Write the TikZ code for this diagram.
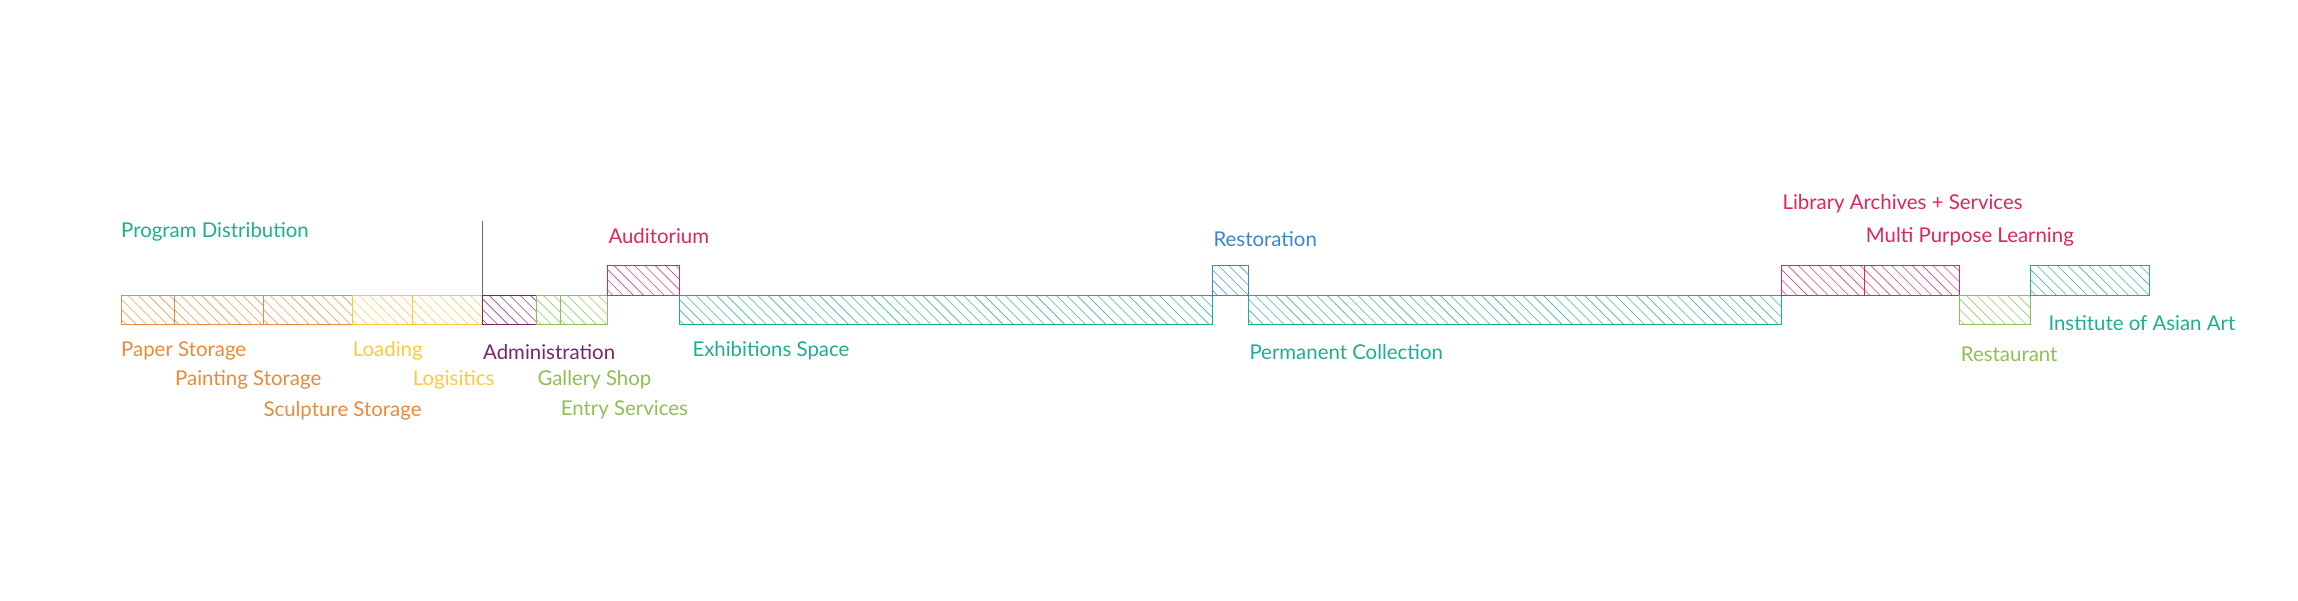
\documentclass[tikz,border=0pt]{standalone}
\usepackage{fontspec}
\setmainfont{Lato}
\definecolor{corange}{HTML}{E88A3C}
\definecolor{cyellow}{HTML}{FFC93C}
\definecolor{cpurple}{HTML}{7B2469}
\definecolor{cgreen}{HTML}{8CC152}
\definecolor{cteal}{HTML}{1BAF8E}
\definecolor{ccrimson}{HTML}{E0245E}
\definecolor{cblue}{HTML}{3A86C8}
\definecolor{cgray}{HTML}{666666}
\tikzset{
  room/.style={draw=#1, line width=0.9pt, inner sep=0pt, outer sep=0pt, anchor=north west,
    minimum height=29.5pt,
    path picture={\foreach \k in {0,...,60}
      \draw[#1!85, line width=0.6pt] ([xshift=\k*10.3pt-35pt]path picture bounding box.north west) -- ++(40pt,-40pt);}},
  lbl/.style={text=#1, anchor=base west, inner sep=0pt, font=\fontsize{20.4}{24}\selectfont}
}
\begin{document}
\begin{tikzpicture}[x=1pt,y=-1pt]
\useasboundingbox (0,0) rectangle (2298,600);
% boxes
\node[room=corange, minimum width=53pt] (paper) at (121.3,295) {};
\node[room=corange, minimum width=89pt] (painting) at (174.3,295) {};
\node[room=corange, minimum width=89pt] (sculpture) at (263.3,295) {};
\node[room=cyellow, minimum width=59.7pt] (loading) at (352.3,295) {};
\node[room=cyellow, minimum width=70.7pt] (logistics) at (412,295) {};
\node[room=cpurple, minimum width=54pt] (admin) at (482.7,295) {};
\node[room=cgreen, minimum width=24pt] (shop) at (536.7,295) {};
\node[room=cgreen, minimum width=47pt] (entry) at (560.7,295) {};
\node[room=ccrimson, minimum width=71.3pt] (audit) at (607.7,265.5) {};
\node[room=cteal, minimum width=533.3pt] (exhib) at (679,295) {};
\node[room=cblue, minimum width=36pt] (resto) at (1212.3,265.5) {};
\node[room=cteal, minimum width=533.4pt] (perm) at (1248.3,295) {};
\node[room=ccrimson, minimum width=83pt] (library) at (1781.7,265.5) {};
\node[room=ccrimson, minimum width=95pt] (multi) at (1864.7,265.5) {};
\node[room=cgreen, minimum width=71pt] (restaurant) at (1959.7,295) {};
\node[room=cteal, minimum width=118.6pt] (institute) at (2030.7,265.5) {};
% divider
\coordinate (vtop) at (482.7,221);
\draw[cgray, line width=1pt] (vtop) -- (admin.north west);
% labels
\node[lbl=cteal] (tprog) at (121,237) {Program Distribution};
\node[lbl=corange] (tpaper) at (121,356.7) {Paper Storage};
\node[lbl=corange] (tpaint) at (175,385.7) {Painting Storage};
\node[lbl=corange] (tsculp) at (263.3,416) {Sculpture Storage};
\node[lbl=cyellow] (tload) at (352.7,356) {Loading};
\node[lbl=cyellow] (tlog) at (412.7,385) {Logisitics};
\node[lbl=cpurple] (tadmin) at (483,359.3) {Administration};
\node[lbl=cgreen] (tshop) at (537.3,385.7) {Gallery Shop};
\node[lbl=cgreen] (tentry) at (560.7,415.7) {Entry Services};
\node[lbl=ccrimson] (taudit) at (608.3,243.3) {Auditorium};
\node[lbl=cteal] (texhib) at (692.3,356.7) {Exhibitions Space};
\node[lbl=cblue] (tresto) at (1213.3,246.7) {Restoration};
\node[lbl=cteal] (tperm) at (1249.3,359.3) {Permanent Collection};
\node[lbl=ccrimson] (tlib) at (1782.3,209.3) {Library Archives + Services};
\node[lbl=ccrimson] (tmulti) at (1865.7,242.7) {Multi Purpose Learning};
\node[lbl=cteal] (tinst) at (2048.3,330.7) {Institute of Asian Art};
\node[lbl=cgreen] (trest) at (1960.7,361) {Restaurant};
\end{tikzpicture}
\end{document}
